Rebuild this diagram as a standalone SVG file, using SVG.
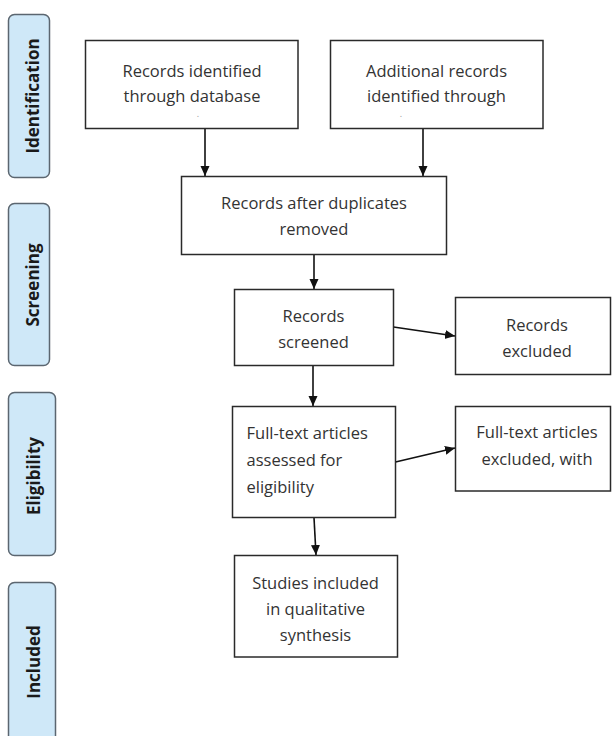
<svg xmlns="http://www.w3.org/2000/svg" width="612" height="736" viewBox="0 0 612 736">
<defs>
<style>
.tab{fill:#cfe8f8;stroke:#5b6670;stroke-width:1.5}
.tabt{font-family:"Open Sans","Liberation Sans",sans-serif;font-weight:bold;font-size:17px;fill:#1a1a1a;text-anchor:middle}
.box{fill:#ffffff;stroke:#2a2a2a;stroke-width:1.5}
.t{font-family:"Open Sans","Liberation Sans",sans-serif;font-size:16.5px;fill:#333333}
.c{text-anchor:middle}
.dot{font-family:"Open Sans","Liberation Sans",sans-serif;font-size:9px;fill:#999;text-anchor:middle}
.arr{stroke:#111;stroke-width:1.6;fill:none;marker-end:url(#ah)}
</style>
<marker id="ah" viewBox="0 0 10 10" refX="10" refY="5" markerWidth="10" markerHeight="10" markerUnits="userSpaceOnUse" orient="auto">
<path d="M0,0.5 L10,5 L0,9.5 z" fill="#111"/>
</marker>
</defs>
<rect width="612" height="736" fill="#ffffff"/>

<g id="tab-identification">
<rect class="tab" x="8.5" y="14.5" width="41" height="163" rx="6"/>
<text class="tabt" transform="translate(39,96) rotate(-90)">Identification</text>
</g>
<g id="tab-screening">
<rect class="tab" x="8.5" y="203.5" width="41" height="162" rx="6"/>
<text class="tabt" transform="translate(39,285) rotate(-90)">Screening</text>
</g>
<g id="tab-eligibility">
<rect class="tab" x="8.5" y="392.5" width="47" height="163" rx="6"/>
<text class="tabt" transform="translate(40,476) rotate(-90)">Eligibility</text>
</g>
<g id="tab-included">
<rect class="tab" x="8.5" y="582.5" width="47" height="170" rx="6"/>
<text class="tabt" transform="translate(40,662) rotate(-90)">Included</text>
</g>

<g id="connectors">
<line class="arr" x1="205" y1="128.5" x2="205" y2="176"/>
<line class="arr" x1="423" y1="128.5" x2="423" y2="176"/>
<line class="arr" x1="314" y1="254.5" x2="314" y2="289"/>
<line class="arr" x1="393.5" y1="327" x2="455" y2="336"/>
<line class="arr" x1="313" y1="365.5" x2="313" y2="406"/>
<line class="arr" x1="395.5" y1="462" x2="455" y2="448"/>
<line class="arr" x1="314" y1="517.5" x2="316" y2="555"/>
</g>

<g id="box-database">
<rect class="box" x="85.5" y="40.5" width="212.5" height="88"/>
<text class="t c" x="192" y="77">Records identified</text>
<text class="t c" x="192" y="102">through database</text>
<text class="dot" x="198" y="117">.</text>
</g>
<g id="box-additional">
<rect class="box" x="330.5" y="40.5" width="212.5" height="88"/>
<text class="t c" x="436.5" y="77">Additional records</text>
<text class="t c" x="436.5" y="102">identified through</text>
<text class="dot" x="401" y="117">.</text>
</g>
<g id="box-duplicates">
<rect class="box" x="181.5" y="176.5" width="265" height="78"/>
<text class="t c" x="314" y="209">Records after duplicates</text>
<text class="t c" x="314" y="235">removed</text>
</g>
<g id="box-screened">
<rect class="box" x="234.5" y="289.5" width="159" height="76"/>
<text class="t c" x="313.5" y="322">Records</text>
<text class="t c" x="313.5" y="348">screened</text>
</g>
<g id="box-excluded">
<rect class="box" x="455.5" y="297.5" width="155" height="77"/>
<text class="t c" x="537" y="331">Records</text>
<text class="t c" x="537" y="357">excluded</text>
</g>
<g id="box-fulltext">
<rect class="box" x="232.5" y="406.5" width="163" height="111"/>
<text class="t" x="246.5" y="439">Full-text articles</text>
<text class="t" x="246.5" y="466">assessed for</text>
<text class="t" x="246.5" y="493">eligibility</text>
</g>
<g id="box-fulltext-excluded">
<rect class="box" x="455.5" y="406.5" width="155" height="84.5"/>
<text class="t c" x="537" y="438">Full-text articles</text>
<text class="t c" x="537" y="465">excluded, with</text>
</g>
<g id="box-included">
<rect class="box" x="234.5" y="555.5" width="163" height="101.5"/>
<text class="t c" x="315.5" y="589">Studies included</text>
<text class="t c" x="315.5" y="615">in qualitative</text>
<text class="t c" x="315.5" y="641">synthesis</text>
</g>
</svg>
